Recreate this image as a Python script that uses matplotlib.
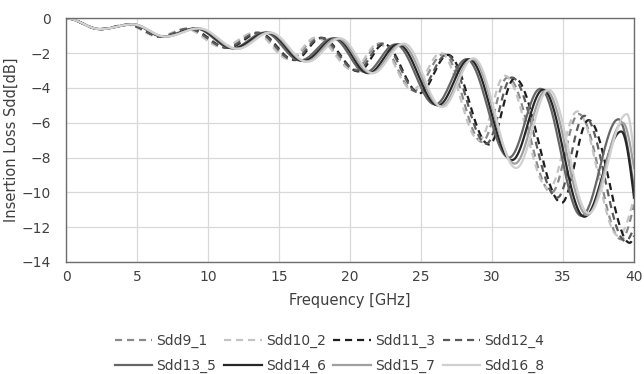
import matplotlib
matplotlib.use("Agg")
import matplotlib.pyplot as plt
import numpy as np

# peak / trough positions (GHz, dB)
sdd9_1_f = [0, 2.4, 4.3, 6.6, 8.5, 11.1, 13.4, 15.8, 17.7, 20.3, 22.1, 24.5, 26.6, 29.3, 31.1, 34.2, 36.1, 39.1, 40]
sdd9_1_db = [0, -0.62, -0.37, -1.05, -0.6, -1.65, -0.82, -2.35, -1.1, -3.0, -1.45, -4.15, -2.05, -7.1, -3.4, -10.0, -5.5, -12.7, -10.7]

sdd10_2_f = [0, 2.4, 4.3, 6.5, 8.4, 11.0, 13.3, 15.7, 17.6, 20.2, 22.0, 24.4, 26.4, 29.1, 30.9, 34.0, 36.0, 38.9, 40]
sdd10_2_db = [0, -0.62, -0.37, -1.05, -0.6, -1.65, -0.82, -2.35, -1.1, -2.95, -1.45, -4.1, -2.0, -7.0, -3.3, -9.8, -5.35, -12.5, -10.3]

sdd11_3_f = [0, 2.4, 4.4, 6.7, 8.7, 11.4, 13.6, 16.1, 18.0, 20.6, 22.4, 24.9, 26.9, 29.8, 31.6, 34.9, 36.8, 39.7, 40]
sdd11_3_db = [0, -0.62, -0.37, -1.05, -0.6, -1.7, -0.84, -2.4, -1.12, -3.05, -1.48, -4.3, -2.1, -7.25, -3.45, -10.6, -5.85, -12.9, -12.5]

sdd12_4_f = [0, 2.4, 4.4, 6.7, 8.6, 11.3, 13.5, 16.0, 17.9, 20.5, 22.3, 24.8, 26.8, 29.6, 31.4, 34.6, 36.5, 39.4, 40]
sdd12_4_db = [0, -0.62, -0.37, -1.05, -0.6, -1.68, -0.83, -2.38, -1.12, -3.0, -1.45, -4.25, -2.1, -7.2, -3.4, -10.3, -5.6, -12.8, -12.0]

sdd13_5_f = [0, 2.4, 4.7, 6.8, 9.1, 11.7, 14.0, 16.5, 18.8, 21.1, 23.2, 26.0, 28.2, 31.2, 33.4, 36.3, 38.9, 40]
sdd13_5_db = [0, -0.62, -0.35, -1.05, -0.58, -1.72, -0.82, -2.42, -1.15, -3.1, -1.5, -4.95, -2.35, -8.0, -4.05, -11.35, -5.8, -9.8]

sdd14_6_f = [0, 2.4, 4.7, 6.9, 9.2, 11.8, 14.2, 16.7, 19.0, 21.3, 23.4, 26.2, 28.4, 31.4, 33.6, 36.5, 39.1, 40]
sdd14_6_db = [0, -0.62, -0.35, -1.05, -0.58, -1.72, -0.82, -2.45, -1.15, -3.15, -1.5, -5.0, -2.35, -8.15, -4.1, -11.4, -6.5, -10.3]

sdd15_7_f = [0, 2.4, 4.7, 7.0, 9.3, 12.0, 14.3, 16.9, 19.1, 21.5, 23.6, 26.4, 28.6, 31.6, 33.8, 36.7, 39.2, 40]
sdd15_7_db = [0, -0.62, -0.35, -1.05, -0.58, -1.75, -0.82, -2.48, -1.15, -3.15, -1.5, -5.05, -2.35, -8.35, -4.15, -11.3, -6.0, -8.6]

sdd16_8_f = [0, 2.4, 4.7, 7.0, 9.4, 12.1, 14.4, 17.0, 19.3, 21.6, 23.8, 26.5, 28.7, 31.7, 34.0, 36.8, 39.5, 40]
sdd16_8_db = [0, -0.62, -0.35, -1.05, -0.58, -1.75, -0.82, -2.5, -1.15, -3.15, -1.45, -5.1, -2.3, -8.6, -4.1, -11.2, -5.5, -7.8]

names = ["Sdd9_1", "Sdd10_2", "Sdd11_3", "Sdd12_4", "Sdd13_5", "Sdd14_6", "Sdd15_7", "Sdd16_8"]
freqs = [sdd9_1_f, sdd10_2_f, sdd11_3_f, sdd12_4_f, sdd13_5_f, sdd14_6_f, sdd15_7_f, sdd16_8_f]
losses = [sdd9_1_db, sdd10_2_db, sdd11_3_db, sdd12_4_db, sdd13_5_db, sdd14_6_db, sdd15_7_db, sdd16_8_db]
colors = ["#8a8a8a", "#c4c4c4", "#1e1e1e", "#5a5a5a", "#666666", "#262626", "#a0a0a0", "#d0d0d0"]
dashed = [True, True, True, True, False, False, False, False]


def smooth(f, db, n=40):
    # smoothed line between the read extrema (like Excel's smoothed line)
    xs, ys = [], []
    last = len(f) - 2
    for i in range(len(f) - 1):
        t = np.linspace(0, 1, n, endpoint=(i == last))
        if i == last:
            w = 1 - np.cos(np.pi / 2 * t)
        else:
            w = (1 - np.cos(np.pi * t)) / 2
        xs.append(f[i] + (f[i + 1] - f[i]) * t)
        ys.append(db[i] + (db[i + 1] - db[i]) * w)
    return np.concatenate(xs), np.concatenate(ys)


plt.rcParams['font.family'] = ['DejaVu Sans']
txt = "#404040"

fig = plt.figure(figsize=(6.44, 3.74), dpi=100)
ax = fig.add_axes([0.1025, 0.2995, 0.882, 0.6515])

lines = []
for name, f, db, c, d in zip(names, freqs, losses, colors, dashed):
    x, y = smooth(f, db)
    if d:
        ln, = ax.plot(x, y, color=c, lw=1.6, ls=(0, (3.2, 2.2)), label=name)
    else:
        ln, = ax.plot(x, y, color=c, lw=1.6, label=name)
    lines.append(ln)

ax.set_xlim(0, 40)
ax.set_ylim(-14, 0)
ax.set_xticks(np.arange(0, 41, 5))
ax.set_yticks(np.arange(-14, 1, 2))
ax.grid(True, color="#d9d9d9", lw=0.9)
ax.set_axisbelow(True)
for s in ax.spines.values():
    s.set_color("#6e6e6e")
    s.set_linewidth(1.0)
ax.tick_params(length=0, labelsize=10, colors=txt, pad=6)
ax.tick_params(axis='y', pad=11)
ax.set_xlabel("Frequency [GHz]", fontsize=10.5, color=txt, labelpad=6)
ax.set_ylabel("Insertion Loss Sdd[dB]", fontsize=10.5, color=txt, labelpad=2)

# legend fills column-wise, so interleave to get the two rows of the original
order = [0, 4, 1, 5, 2, 6, 3, 7]
fig.legend([lines[i] for i in order], [names[i] for i in order],
           loc="center", bbox_to_anchor=(0.512, 0.055), ncol=4, frameon=False,
           fontsize=10, handlelength=2.7, handletextpad=0.3, columnspacing=0.55,
           labelspacing=0.75, labelcolor=txt)

fig.savefig("out.png", dpi=100)
